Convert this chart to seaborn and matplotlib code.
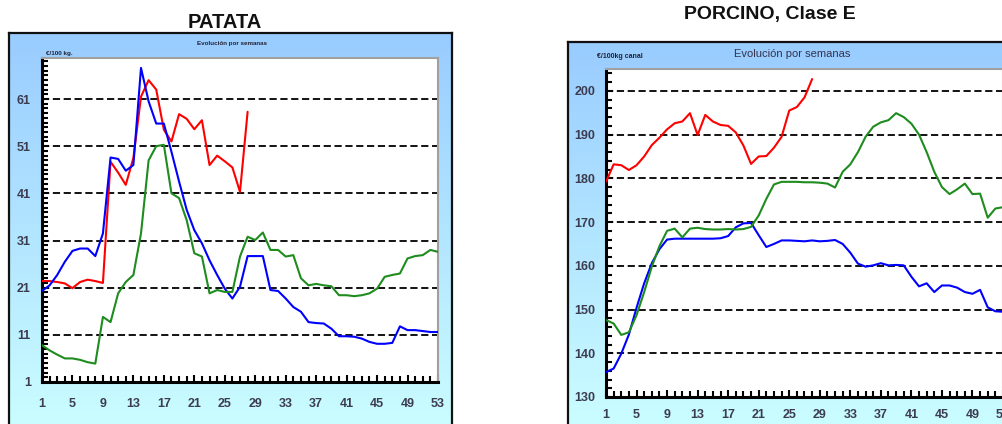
import numpy as np
import pandas as pd
import matplotlib
matplotlib.use("Agg")
import matplotlib.pyplot as plt
from matplotlib.colors import LinearSegmentedColormap
from matplotlib.ticker import FixedLocator, MultipleLocator
import seaborn as sns

# ─────────────────────────────────────────────────────────────────────────
# Data (weekly prices)
# ─────────────────────────────────────────────────────────────────────────
weeks = list(range(1, 54))
week_ticks = [1, 5, 9, 13, 17, 21, 25, 29, 33, 37, 41, 45, 49, 53]

patata_actual = [22.4, 22.4, 22.2, 21.9, 20.9, 22.2, 22.7, 22.4, 22.0, 47.7,
                 45.4, 42.8, 48.5, 61.5, 65.0, 63.0, 54.5, 52.0, 57.8, 56.8,
                 54.6, 56.5, 47.0, 49.0, 47.8, 46.5, 41.3, 58.3]
patata_prev = [20.3, 21.5, 23.7, 26.5, 28.8, 29.3, 29.3, 27.7, 32.5, 48.6,
               48.3, 45.8, 47.0, 67.6, 60.5, 55.8, 55.8, 49.8, 43.5, 37.5,
               33.2, 30.4, 26.8, 23.7, 20.8, 18.7, 21.2, 27.7, 27.7, 27.7,
               20.5, 20.3, 18.7, 16.9, 15.9, 13.7, 13.5, 13.4, 12.3, 10.7,
               10.7, 10.6, 10.2, 9.5, 9.1, 9.1, 9.3, 12.8, 12.0, 12.0,
               11.8, 11.6, 11.6]
patata_prev2 = [8.8, 7.7, 6.8, 6.0, 6.0, 5.7, 5.2, 4.9, 14.8, 13.7,
                19.8, 22.2, 23.7, 32.5, 48.0, 51.0, 51.3, 41.0, 40.0, 35.3,
                28.3, 27.6, 19.8, 20.5, 20.1, 20.1, 27.6, 31.8, 31.1, 32.7,
                29.0, 29.0, 27.6, 27.9, 23.0, 21.5, 21.8, 21.5, 21.3, 19.4,
                19.4, 19.2, 19.4, 19.8, 20.8, 23.3, 23.7, 24.0, 27.2, 27.7,
                27.9, 29.0, 28.6]

porcino_actual = [179.2, 183.2, 183.0, 181.9, 183.0, 185.0, 187.6, 189.3, 191.2, 192.6,
                  193.0, 194.9, 189.9, 194.5, 193.0, 192.2, 192.0, 190.5, 187.5, 183.3,
                  185.0, 185.1, 187.0, 189.5, 195.5, 196.3, 198.5, 202.7]
porcino_prev = [135.7, 136.5, 139.9, 144.3, 150.4, 156.0, 160.6, 163.8, 166.0, 166.2,
                166.2, 166.2, 166.2, 166.2, 166.2, 166.3, 166.8, 168.8, 169.7, 169.8,
                167.0, 164.3, 165.0, 165.8, 165.8, 165.7, 165.6, 165.8, 165.6, 165.7,
                165.9, 165.0, 163.0, 160.5, 159.8, 160.1, 160.6, 160.1, 160.2, 160.1,
                157.5, 155.3, 156.0, 154.0, 155.5, 155.5, 155.0, 154.0, 153.6, 154.5,
                150.5, 149.6, 149.5]
porcino_prev2 = [147.6, 146.8, 144.2, 144.8, 148.7, 154.0, 159.8, 164.5, 168.0, 168.5,
                 166.5, 168.5, 168.7, 168.4, 168.3, 168.3, 168.4, 168.3, 168.4, 168.9,
                 171.5, 175.3, 178.6, 179.2, 179.2, 179.2, 179.1, 179.1, 179.0, 178.8,
                 177.9, 181.5, 183.2, 186.0, 189.5, 191.8, 192.8, 193.3, 194.9, 194.0,
                 192.5, 190.0, 186.0, 181.5, 178.0, 176.4, 177.5, 178.8, 176.4, 176.5,
                 171.0, 173.1, 173.4]

series_names = ["actual", "anterior", "hace dos"]
series_colors = {"actual": "#FF0000", "anterior": "#0000FF", "hace dos": "#1E8C1E"}


def long_frame(values_by_series):
    rows = []
    for name, vals in values_by_series.items():
        for w, v in zip(weeks, vals):
            rows.append({"semana": w, "precio": v, "serie": name})
    return pd.DataFrame(rows)


sns.set_theme(style="white")
plt.rcParams["font.family"] = ["Liberation Sans", "DejaVu Sans"]

fig = plt.figure(figsize=(10.03, 4.24), dpi=100)

gradient_cmap = LinearSegmentedColormap.from_list("panel", ["#CCFFFF", "#99CCFF"])


def frame_panel(rect):
    bg = fig.add_axes(rect, zorder=0)
    grad = np.linspace(0, 1, 256).reshape(-1, 1)
    bg.imshow(grad, aspect="auto", cmap=gradient_cmap, origin="lower",
              extent=[0, 1, 0, 1])
    bg.set_xticks([])
    bg.set_yticks([])
    for s in bg.spines.values():
        s.set_color("#111111")
        s.set_linewidth(1.6)
    return bg


def price_axes(rect, df, ylim, major, minor_step, label_pad_x, label_pad_y):
    ax = fig.add_axes(rect, zorder=2)
    ax.set_facecolor("white")
    for y in major[1:]:
        ax.axhline(y, color="black", lw=1.3, dashes=(4, 2), zorder=1)
    sns.lineplot(data=df, x="semana", y="precio", hue="serie",
                 hue_order=series_names, palette=series_colors,
                 lw=1.5, legend=False, ax=ax, zorder=3)
    ax.set_xlim(1, 53)
    ax.set_ylim(*ylim)
    ax.xaxis.set_major_locator(FixedLocator(week_ticks))
    ax.xaxis.set_minor_locator(MultipleLocator(1))
    ax.yaxis.set_major_locator(FixedLocator(major))
    ax.yaxis.set_minor_locator(MultipleLocator(minor_step))
    ax.tick_params(which="both", direction="in", color="black", width=1.5,
                   top=False, right=False, left=True, bottom=True)
    ax.tick_params(which="major", length=5)
    ax.tick_params(which="minor", length=4)
    ax.tick_params(axis="x", pad=label_pad_x)
    ax.tick_params(axis="y", pad=label_pad_y)
    for lab in ax.get_xticklabels() + ax.get_yticklabels():
        lab.set_fontsize(9)
        lab.set_fontweight("bold")
        lab.set_color("#3c3c50")
    ax.set_xlabel("")
    ax.set_ylabel("")
    ax.spines["left"].set_color("black")
    ax.spines["bottom"].set_color("black")
    ax.spines["left"].set_linewidth(2.2)
    ax.spines["bottom"].set_linewidth(2.2)
    ax.spines["top"].set_color("#a0a0a0")
    ax.spines["right"].set_color("#a0a0a0")
    ax.spines["top"].set_linewidth(1.5)
    ax.spines["right"].set_linewidth(1.5)
    return ax


W, H = 1003.0, 424.0

# ── PATATA ──────────────────────────────────────────────────────────────
frame_panel([9 / W, -0.03, (452 - 9) / W, (424 - 33) / H + 0.03])
df_patata = long_frame({"actual": patata_actual, "anterior": patata_prev,
                        "hace dos": patata_prev2})
price_axes([42 / W, (H - 382) / H, 396 / W, 324 / H], df_patata,
           (1, 69.7), [1, 11, 21, 31, 41, 51, 61], 1, 11.5, 8)
fig.text(225 / W, 1 - 22 / H, "PATATA", ha="center", va="center",
         fontsize=14.5, fontweight="bold", color="#111111")
fig.text(232 / W, 1 - 43 / H, "Evolución por semanas", ha="center", va="center",
         fontsize=4.5, fontweight="bold", color="#222233")
fig.text(46 / W, 1 - 54 / H, "€/100 kg.", ha="left", va="center",
         fontsize=4.5, fontweight="bold", color="#222233")

# ── PORCINO ─────────────────────────────────────────────────────────────
frame_panel([568 / W, -0.03, 0.45, (424 - 42) / H + 0.03])
df_porcino = long_frame({"actual": porcino_actual, "anterior": porcino_prev,
                         "hace dos": porcino_prev2})
price_axes([606 / W, (H - 397) / H, 397 / W, 328 / H], df_porcino,
           (130, 205), [130, 140, 150, 160, 170, 180, 190, 200], 2, 9, 7.5)
fig.text(770 / W, 1 - 14 / H, "PORCINO, Clase E", ha="center", va="center",
         fontsize=14, fontweight="bold", color="#111111")
fig.text(792 / W, 1 - 54 / H, "Evolución por semanas", ha="center", va="center",
         fontsize=8, color="#33334d")
fig.text(597 / W, 1 - 56 / H, "€/100kg canal", ha="left", va="center",
         fontsize=5, fontweight="bold", color="#222233")

fig.savefig("out.png", dpi=100)
